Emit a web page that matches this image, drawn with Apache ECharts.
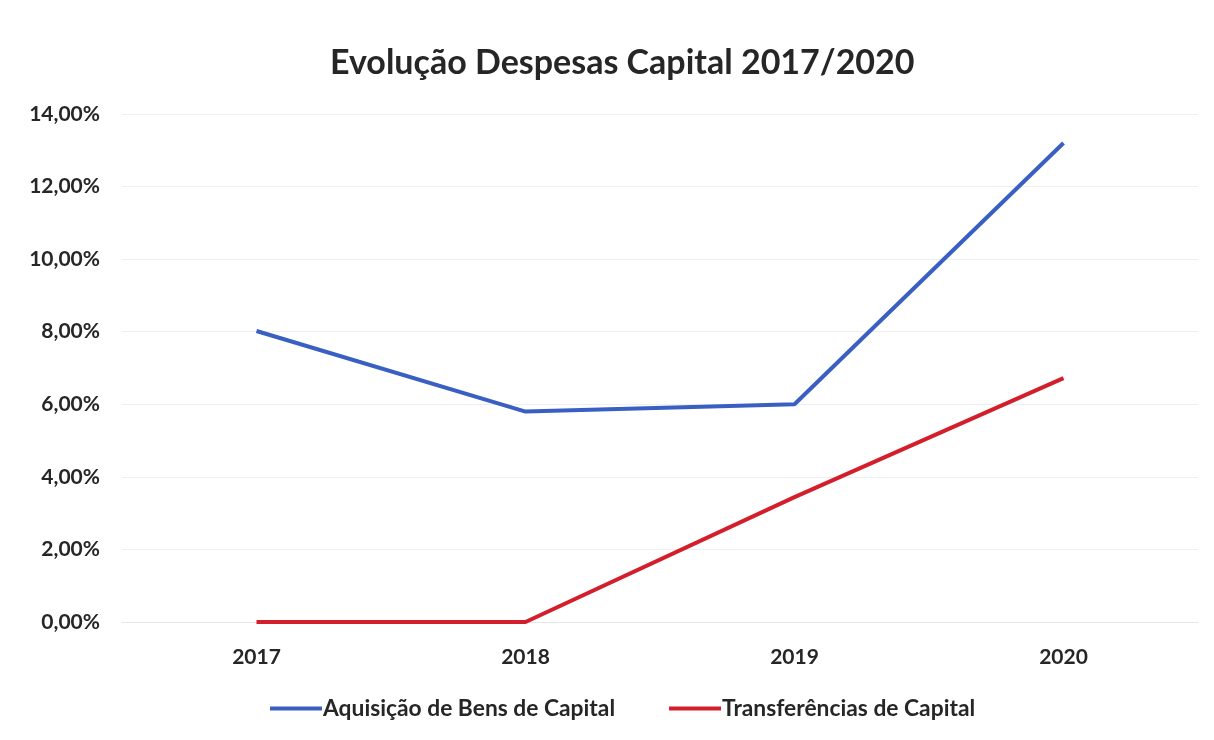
<!DOCTYPE html>
<html>
<head>
<meta charset="utf-8">
<script src="https://cdn.jsdelivr.net/npm/echarts@6/dist/echarts.min.js"></script>
<style>
html,body{margin:0;padding:0;background:#fff;}
#chart{width:1214px;height:740px;}
</style>
</head>
<body>
<div id="chart"></div>
<script>
const title = 'Evolução Despesas Capital 2017/2020';
const categories = ['2017', '2018', '2019', '2020'];
const seriesNames = ['Aquisição de Bens de Capital', 'Transferências de Capital'];
const aquisicao = [8.02, 5.8, 6.0, 13.2];
const transferencias = [0, 0, 3.44, 6.72];
const yTicks = [0, 2, 4, 6, 8, 10, 12, 14];

const chart = echarts.init(document.getElementById('chart'));
const fontFam = 'Lato, "Open Sans", sans-serif';
chart.setOption({
  backgroundColor: '#ffffff',
  title: {
    text: title,
    left: 330,
    top: 46,
    padding: 0,
    textStyle: { fontFamily: fontFam, fontSize: 34, fontWeight: 'bold', color: '#262626' }
  },
  legend: {
    bottom: 20,
    left: 270,
    padding: 0,
    itemWidth: 52,
    itemHeight: 4,
    itemGap: 54,
    icon: 'rect',
    textStyle: { fontFamily: fontFam, fontSize: 22.8, fontWeight: 'bold', color: '#262626', padding: [0, 0, 0, -4] },
    data: seriesNames
  },
  grid: { left: 122, right: 16, top: 114, bottom: 118 },
  xAxis: {
    type: 'category',
    data: categories,
    boundaryGap: true,
    axisLine: { show: true, lineStyle: { color: '#e6e6e6' } },
    axisTick: { show: false },
    axisLabel: { margin: 25, fontFamily: fontFam, fontSize: 21, fontWeight: 'bold', color: '#262626' }
  },
  yAxis: {
    type: 'value',
    min: yTicks[0],
    max: yTicks[yTicks.length - 1],
    interval: 2,
    axisLine: { show: false },
    axisTick: { show: false },
    splitLine: { lineStyle: { color: '#efefef' } },
    axisLabel: {
      margin: 22,
      fontFamily: fontFam, fontSize: 21, fontWeight: 'bold', color: '#262626',
      formatter: v => v.toFixed(2).replace('.', ',') + '%'
    }
  },
  series: [
    {
      name: seriesNames[0], type: 'line', data: aquisicao,
      symbol: 'none', lineStyle: { width: 4, color: '#3a5fc2' }, itemStyle: { color: '#3a5fc2' }
    },
    {
      name: seriesNames[1], type: 'line', data: transferencias,
      symbol: 'none', lineStyle: { width: 4, color: '#d21f2b' }, itemStyle: { color: '#d21f2b' }
    }
  ]
});
</script>
</body>
</html>
